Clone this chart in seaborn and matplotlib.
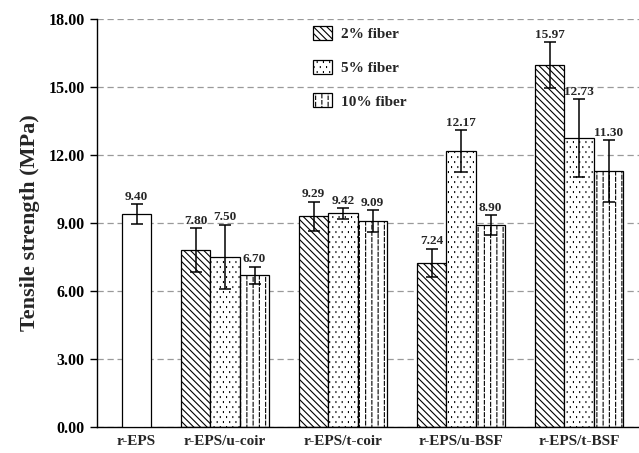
import warnings
import numpy as np
import pandas as pd
import matplotlib
matplotlib.use("Agg")
import matplotlib.pyplot as plt
import matplotlib.hatch as mhatch
from matplotlib.path import Path
import seaborn as sns

# ---- data -------------------------------------------------------------
categories = ["r-EPS", "r-EPS/u-coir", "r-EPS/t-coir", "r-EPS/u-BSF", "r-EPS/t-BSF"]
fiber_levels = ["2% fiber", "5% fiber", "10% fiber"]

plain_value = 9.40          # r-EPS without fibre
plain_error = 0.44

fiber_2 = [7.80, 9.29, 7.24, 15.97]
fiber_5 = [7.50, 9.42, 12.17, 12.73]
fiber_10 = [6.70, 9.09, 8.90, 11.30]

err_2 = [0.97, 0.65, 0.62, 1.01]
err_5 = [1.43, 0.23, 0.92, 1.72]
err_10 = [0.37, 0.48, 0.44, 1.36]

yticks = [0, 3, 6, 9, 12, 15, 18]


# ---- extra hatch patterns ----------------------------------------------
class DashedVerticalHatch(mhatch.HatchPatternBase):
    """':' -> staggered columns of short vertical dashes."""
    def __init__(self, hatch, density):
        n = hatch.count(":")
        self.num_cols = 8 * n
        self.num_dashes = 8 * n
        self.num_vertices = self.num_cols * self.num_dashes * 2

    def set_vertices_and_codes(self, vertices, codes):
        period = 1.0 / self.num_dashes
        cols = np.arange(self.num_cols)
        xs = (cols + 0.5) / self.num_cols
        shift = np.where(cols % 2 == 1, 0.35 * period, 0.0)
        X = np.repeat(xs, self.num_dashes)
        Y = (np.tile(np.arange(self.num_dashes), self.num_cols) * period
             + np.repeat(shift, self.num_dashes))
        vertices[0::2, 0] = X
        vertices[0::2, 1] = Y
        vertices[1::2, 0] = X
        vertices[1::2, 1] = Y + 0.62 * period
        codes[0::2] = Path.MOVETO
        codes[1::2] = Path.LINETO


class FineDotHatch(mhatch.HatchPatternBase):
    """',' -> staggered grid of pin-point dots."""
    def __init__(self, hatch, density):
        n = hatch.count(",")
        self.num_cols = 8 * n
        self.num_rows = 10 * n
        self.num_vertices = self.num_cols * self.num_rows * 2

    def set_vertices_and_codes(self, vertices, codes):
        rows = np.arange(self.num_rows)
        ys = (rows + 0.5) / self.num_rows
        xs = []
        yy = []
        for r, y in zip(rows, ys):
            off = 0.25 + 0.5 * (r % 2)
            xs.append((np.arange(self.num_cols) + off) / self.num_cols)
            yy.append(np.full(self.num_cols, y))
        X = np.concatenate(xs)
        Y = np.concatenate(yy)
        vertices[0::2, 0] = X
        vertices[0::2, 1] = Y
        vertices[1::2, 0] = X
        vertices[1::2, 1] = Y + 0.009
        codes[0::2] = Path.MOVETO
        codes[1::2] = Path.LINETO


mhatch._hatch_types.extend([DashedVerticalHatch, FineDotHatch])
warnings.filterwarnings("ignore", message=".*hatch must consist.*")

# ---- style ----------------------------------------------------------------
sns.set_theme(style="ticks")
plt.rcParams["font.family"] = ["Liberation Serif", "DejaVu Serif"]
plt.rcParams["font.weight"] = "bold"
plt.rcParams["hatch.linewidth"] = 0.8
plt.rcParams["hatch.color"] = "#222222"

fig = plt.figure(figsize=(6.39, 4.53), dpi=100)
ax = fig.add_axes([97 / 639, 1 - 427 / 453, (639 - 97) / 639, (427 - 19) / 453])

mats = categories[1:]
df = pd.concat(
    [
        pd.DataFrame({"material": mats, "fiber": fiber_levels[0], "strength": fiber_2, "err": err_2}),
        pd.DataFrame({"material": mats, "fiber": fiber_levels[1], "strength": fiber_5, "err": err_5}),
        pd.DataFrame({"material": mats, "fiber": fiber_levels[2], "strength": fiber_10, "err": err_10}),
    ],
    ignore_index=True,
)

sns.barplot(
    data=df, x="material", y="strength", hue="fiber",
    order=categories, hue_order=fiber_levels,
    palette=["white"] * 3, width=0.75, errorbar=None,
    edgecolor="black", linewidth=0.9, saturation=1, ax=ax, legend=False,
)

hatches = ["\\\\\\\\\\", ",,", "::"]
bar_w = None
for cont, hatch, level in zip(ax.containers, hatches, fiber_levels):
    sub = df[df["fiber"] == level]
    xs = []
    for patch in cont.patches:
        patch.set_hatch(hatch)
        patch.set_facecolor("white")
        patch.set_edgecolor("black")
        xs.append(patch.get_x() + patch.get_width() / 2)
        bar_w = patch.get_width()
    xs = np.array(xs)
    vals = sub["strength"].to_numpy()
    errs = sub["err"].to_numpy()
    ax.errorbar(xs, vals, yerr=errs, fmt="none", ecolor="black",
                elinewidth=1.1, capsize=4.3, capthick=1.1, zorder=4)
    for x, v, e in zip(xs, vals, errs):
        ax.annotate(f"{v:.2f}", (x, v + e), xytext=(0, 1), textcoords="offset points",
                    ha="center", va="bottom", fontsize=9.5, fontweight="bold", zorder=5)

# plain r-EPS bar sits in the last slot of its category
plain_x = categories.index("r-EPS") + bar_w
ax.bar(plain_x, plain_value, width=bar_w, color="white", edgecolor="black", linewidth=0.9, zorder=3)
ax.errorbar([plain_x], [plain_value], yerr=[plain_error], fmt="none", ecolor="black",
            elinewidth=1.1, capsize=4.3, capthick=1.1, zorder=4)
ax.annotate(f"{plain_value:.2f}", (plain_x, plain_value + plain_error), xytext=(0, 1),
            textcoords="offset points", ha="center", va="bottom", fontsize=9.5,
            fontweight="bold", zorder=5)

# ---- axes -----------------------------------------------------------------
ax.set_ylim(0, 18)
ax.set_xlim(-0.085, 4.508)
ax.set_yticks(yticks)
ax.set_yticklabels([f"{t:.2f}" for t in yticks], fontsize=11.5, fontweight="bold")
ax.set_xticks([plain_x] + list(range(1, len(categories))))
ax.set_xticklabels(categories, fontsize=11, fontweight="bold")
ax.tick_params(axis="x", length=0, pad=5.5)
ax.tick_params(axis="y", length=5, width=1, direction="out", pad=4, colors="black")
ax.set_xlabel("")
ax.set_ylabel("Tensile strength (MPa)", fontsize=16, fontweight="bold", labelpad=6)

ax.set_axisbelow(True)
ax.yaxis.grid(True, linestyle=(0, (5, 3)), color="#9a9a9a", linewidth=0.9)
ax.xaxis.grid(False)
for side in ("top", "right"):
    ax.spines[side].set_visible(False)
for side in ("left", "bottom"):
    ax.spines[side].set_color("black")
    ax.spines[side].set_linewidth(1.0)

leg_handles = [cont.patches[0] for cont in ax.containers[:3]]
leg = ax.legend(
    leg_handles, fiber_levels, loc="upper left",
    bbox_to_anchor=(313 / 639, 1 - 26 / 453), bbox_transform=fig.transFigure,
    frameon=False, borderpad=0, borderaxespad=0,
    handlelength=1.25, handleheight=1.05, handletextpad=0.6, labelspacing=1.2,
    prop={"size": 11, "weight": "bold"},
)

fig.savefig("out.png", dpi=100)
